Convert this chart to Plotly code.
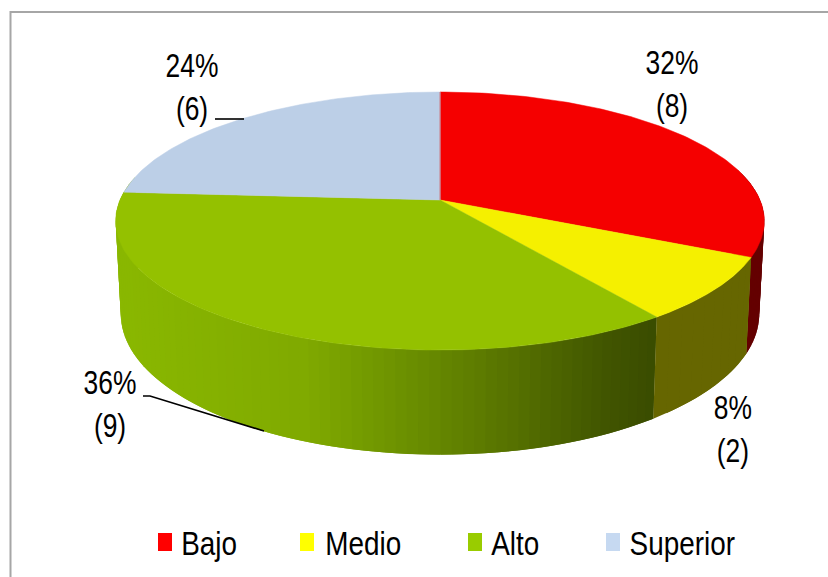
import numpy as np
import plotly.graph_objects as go

categories = ["Bajo", "Medio", "Alto", "Superior"]
counts = [8, 2, 9, 6]
top_colors = ["#f50000", "#f5f000", "#94c100", "#bccfe7"]
legend_colors = ["#ff0000", "#ffff00", "#99cc00", "#c6d9f1"]
legend_x = [158, 300, 468, 606]
legend_text_x = [209, 363, 515, 682]
label_pos = [(672, 84), (733, 429), (110, 404), (192, 87)]

FONT = "Liberation Sans, Arial, sans-serif"
CX, K = 440.0, 0.163


def top_ring(theta):
    u, v = np.sin(theta), np.cos(theta)
    w = 1 + K * v
    return CX + 320 * u / w, 200 - 125.6 * v / w


def bottom_ring(theta):
    u, v = np.sin(theta), np.cos(theta)
    w = 1 + K * v
    return CX + 315 * u / w, 291 - 137 * v / w


def green_shade(x):
    stops_x = [118, 300, 380, 500, 600, 655]
    stops = np.array([[138, 184, 0], [128, 170, 0], [112, 150, 0],
                      [88, 116, 0], [66, 86, 0], [58, 76, 0]], float)
    rgb = [np.interp(x, stops_x, stops[:, i]) for i in range(3)]
    return "rgb(%d,%d,%d)" % tuple(rgb)


fig = go.Figure()
total = sum(counts)
edges = 2 * np.pi * np.cumsum([0] + counts) / total


def poly(xs, ys, color, line=0.0):
    fig.add_trace(go.Scatter(x=xs, y=ys, mode="lines", fill="toself",
                             fillcolor=color, line=dict(color=color, width=line),
                             hoverinfo="skip", showlegend=False))


def wall(t_from, t_to, color_fn, steps):
    # Quads painted from t_from to t_to; each reaches one step past its end and
    # is overpainted by the next, so neighbouring quads leave no seam.
    grid = np.linspace(t_from, t_to, steps + 1)
    step = grid[1] - grid[0]
    for i, (a, b) in enumerate(zip(grid[:-1], grid[1:])):
        end = b + step if i < steps - 1 else b
        ts = np.linspace(a, end, 5)
        xt, yt = top_ring(ts)
        xb, yb = bottom_ring(ts[::-1])
        poly(np.r_[xt, xb, xt[0]], np.r_[yt, yb, yt[0]], color_fn(top_ring(a)[0]))


# Side wall, painted before the top face
wall(np.pi * 0.42, edges[1], lambda x: "#640000", 24)
wall(np.pi * 1.56, edges[2], green_shade, 80)
wall(edges[2], edges[1], lambda x: "#666600", 10)

# Top face
for i, name in enumerate(categories):
    ts = np.linspace(edges[i], edges[i + 1], 120)
    xt, yt = top_ring(ts)
    poly(np.r_[CX, xt, CX], np.r_[200, yt, 200], top_colors[i], 0.5)

# Seam between last and first slice
xs, ys = top_ring(np.array([0.0]))
fig.add_trace(go.Scatter(x=[CX, xs[0]], y=[200, ys[0]], mode="lines",
                         line=dict(color="#c98a98", width=1.2),
                         hoverinfo="skip", showlegend=False))

# Leader lines
for lx, ly in (([215, 244], [119, 119]), ([143, 150, 264], [396, 396, 431])):
    fig.add_trace(go.Scatter(x=lx, y=ly, mode="lines", line=dict(color="black", width=1.6),
                             hoverinfo="skip", showlegend=False))

annotations = []
for (x, y), c in zip(label_pos, counts):
    annotations.append(dict(x=x, y=y, xref="x", yref="y", showarrow=False, xanchor="center",
                            yanchor="middle", text=f"{round(100 * c / total)}%<br>({c})",
                            font=dict(family=FONT, size=33, color="black")))

shapes = [dict(type="rect", xref="x", yref="y", x0=10.5, y0=12, x1=900, y1=640,
               line=dict(color="#a6a6a6", width=2), layer="below")]
for name, sx, tx, col in zip(categories, legend_x, legend_text_x, legend_colors):
    shapes.append(dict(type="rect", xref="x", yref="y", x0=sx, x1=sx + 14, y0=533, y1=551,
                       fillcolor=col, line=dict(width=0)))
    annotations.append(dict(x=tx, y=543, xref="x", yref="y", showarrow=False, xanchor="center",
                            yanchor="middle", text=name,
                            font=dict(family=FONT, size=34, color="black")))

fig.update_layout(
    width=828, height=577, margin=dict(l=0, r=0, t=0, b=0),
    paper_bgcolor="white", plot_bgcolor="white", showlegend=False,
    xaxis=dict(range=[0, 828], visible=False, fixedrange=True),
    yaxis=dict(range=[577, 0], visible=False, fixedrange=True),
    annotations=annotations, shapes=shapes,
)

# No narrow face is installed, so condense the annotation text horizontally.
narrow_js = """
document.body.style.margin='0';document.body.style.overflow='hidden';
document.querySelectorAll('text.annotation-text').forEach(function(t){
  var b=t.getBBox(), c=b.x+b.width/2, s=t.textContent.indexOf('%')>=0?0.8:0.82;
  t.setAttribute('transform','translate('+c+',0) scale('+s+',1) translate('+(-c)+',0)');
});
"""
fig.write_html("out.html", config={"displayModeBar": False}, post_script=narrow_js)
